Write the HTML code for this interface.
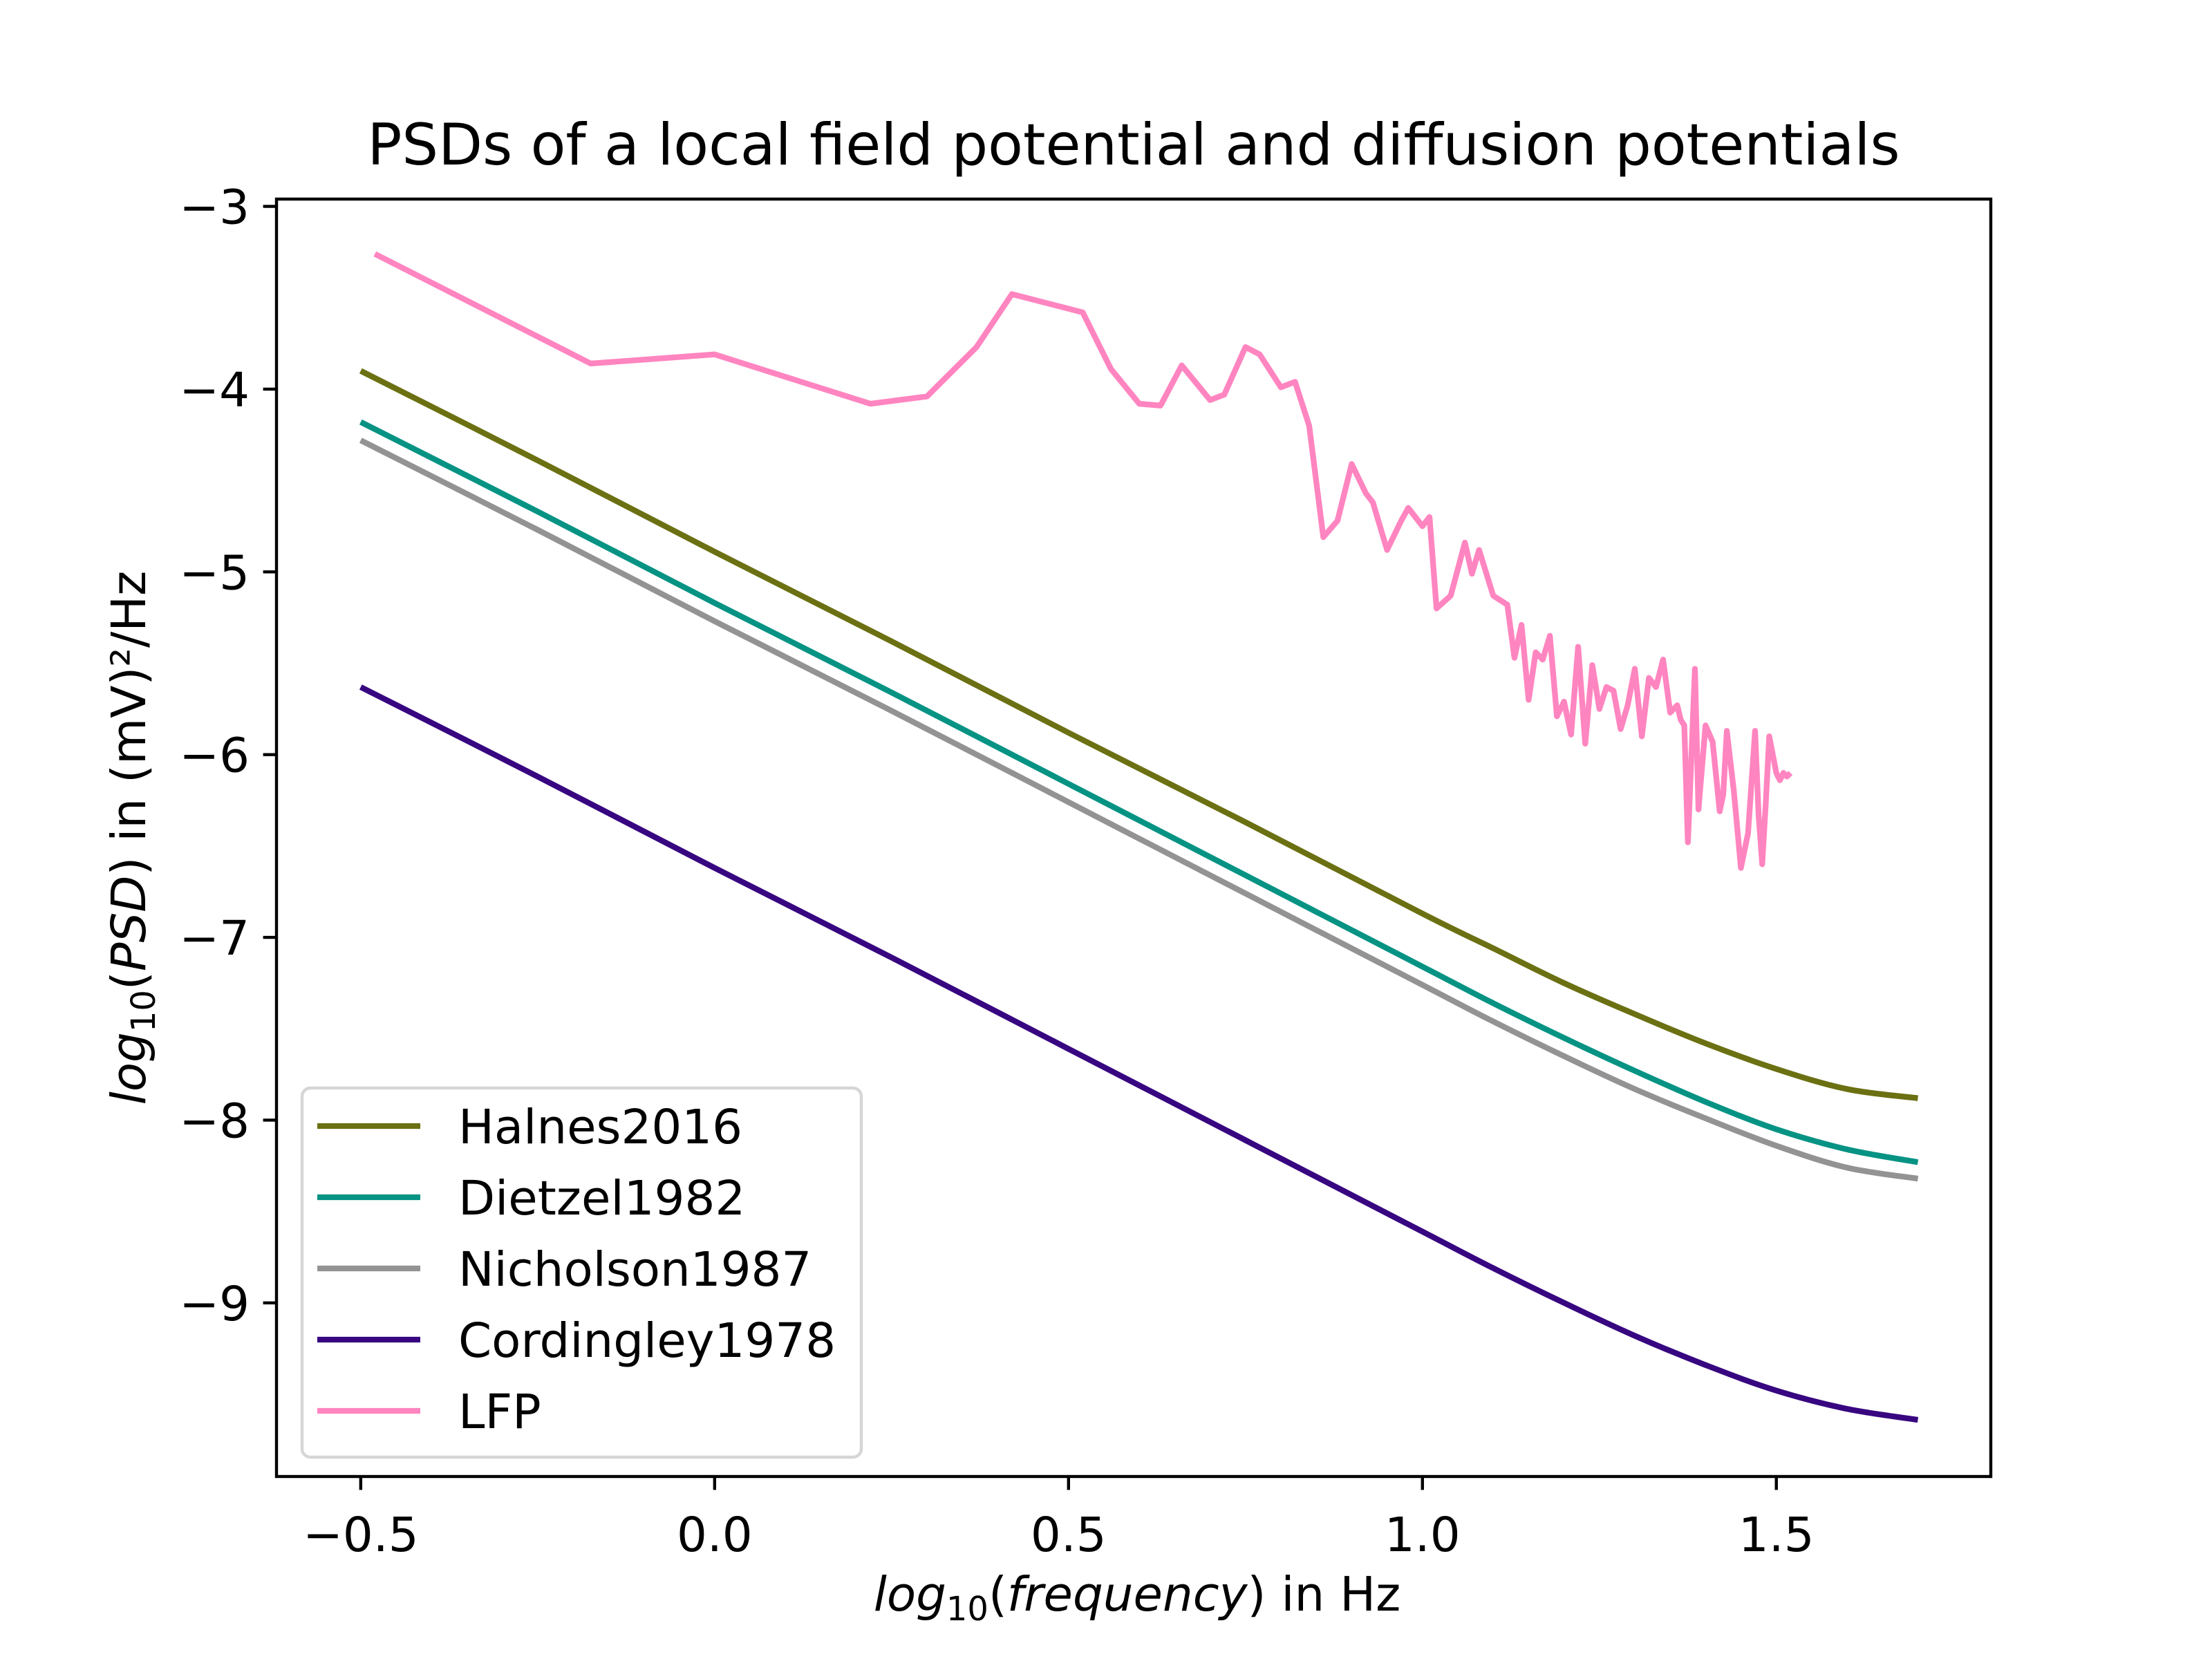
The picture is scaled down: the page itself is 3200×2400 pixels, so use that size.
<!DOCTYPE html>
<html><head><meta charset="utf-8"><style>
html,body{margin:0;padding:0;background:#fff;}
svg{display:block;font-family:"DejaVu Sans","Liberation Sans",sans-serif;}
</style></head><body>
<svg id="chart" width="3200" height="2400" viewBox="0 0 3200 2400" xmlns="http://www.w3.org/2000/svg">
<rect width="3200" height="2400" fill="#fff"/>
<text x="1640" y="238" font-size="83" text-anchor="middle">PSDs of a local field potential and diffusion potentials</text>
<g id="series"></g>
<rect x="400" y="288" width="2480" height="1848" fill="none" stroke="#000" stroke-width="4.4"/>
<g id="ticks"></g>
<text x="1645" y="2330" font-size="69" text-anchor="middle"><tspan font-style="italic">log</tspan><tspan font-size="48" dy="14">10</tspan><tspan dy="-14">(</tspan><tspan font-style="italic">frequency</tspan><tspan>) in Hz</tspan></text>
<text transform="translate(210,1212) rotate(-90)" font-size="69" text-anchor="middle"><tspan font-style="italic">log</tspan><tspan font-size="48" dy="14">10</tspan><tspan dy="-14">(</tspan><tspan font-style="italic">PSD</tspan><tspan>) in (mV)²/Hz</tspan></text>
<g id="legend">
<rect x="437" y="1574" width="809" height="534" rx="12" fill="#fff" fill-opacity="0.8" stroke="#d6d6d6" stroke-width="4.4"/>
</g>
</svg>
<script>
const xGrid = [-0.5,-0.25,0,0.25,0.5,0.75,1.0,1.1,1.2,1.3,1.4,1.5,1.6,1.7];
const halnes = [-3.90,-4.39,-4.89,-5.38,-5.88,-6.37,-6.87,-7.06,-7.25,-7.42,-7.58,-7.72,-7.83,-7.88];
const dietzel = [-4.18,-4.67,-5.17,-5.66,-6.16,-6.66,-7.16,-7.36,-7.55,-7.73,-7.90,-8.05,-8.16,-8.23];
const nicholson = [-4.28,-4.77,-5.27,-5.76,-6.26,-6.76,-7.26,-7.46,-7.65,-7.83,-7.99,-8.14,-8.26,-8.32];
const cordingley = [-5.63,-6.12,-6.62,-7.11,-7.61,-8.11,-8.61,-8.81,-9.00,-9.18,-9.34,-9.48,-9.58,-9.64];
const lfpX = [-0.48,-0.175,0.0,0.22,0.30,0.37,0.42,0.52,0.56,0.60,0.63,0.66,0.70,0.72,0.75,0.77,0.80,0.82,0.84,0.86,0.88,0.90,0.92,0.93,0.95,0.97,0.98,1.00,1.01,1.02,1.04,1.06,1.07,1.08,1.10,1.12,1.13,1.14,1.15,1.16,1.17,1.18,1.19,1.20,1.21,1.22,1.23,1.24,1.25,1.26,1.27,1.28,1.29,1.30,1.31,1.32,1.33,1.34,1.35,1.36,1.365,1.37,1.375,1.385,1.39,1.40,1.41,1.415,1.42,1.425,1.43,1.44,1.45,1.46,1.47,1.475,1.48,1.485,1.49,1.50,1.505,1.51,1.515,1.52];
const lfpY = [-3.26,-3.86,-3.81,-4.08,-4.04,-3.77,-3.48,-3.58,-3.89,-4.08,-4.09,-3.87,-4.06,-4.03,-3.77,-3.81,-3.99,-3.96,-4.20,-4.81,-4.72,-4.41,-4.57,-4.62,-4.88,-4.72,-4.65,-4.75,-4.70,-5.20,-5.13,-4.84,-5.01,-4.88,-5.13,-5.18,-5.47,-5.29,-5.70,-5.44,-5.48,-5.35,-5.79,-5.71,-5.89,-5.41,-5.94,-5.51,-5.75,-5.63,-5.65,-5.86,-5.73,-5.53,-5.90,-5.58,-5.63,-5.48,-5.77,-5.73,-5.81,-5.84,-6.48,-5.53,-6.30,-5.84,-5.93,-6.12,-6.31,-6.22,-5.87,-6.20,-6.62,-6.43,-5.87,-6.33,-6.60,-6.27,-5.90,-6.10,-6.14,-6.10,-6.12,-6.10];
const xTicks = [-0.5,0.0,0.5,1.0,1.5];
const xTickLabels = ["\u22120.5","0.0","0.5","1.0","1.5"];
const yTicks = [-3,-4,-5,-6,-7,-8,-9];
const yTickLabels = ["\u22123","\u22124","\u22125","\u22126","\u22127","\u22128","\u22129"];
const seriesNames = ["Halnes2016","Dietzel1982","Nicholson1987","Cordingley1978","LFP"];

const NS="http://www.w3.org/2000/svg";
const X0=400,X1=2880,Y0=288,Y1=2136;
const xmin=-0.619,xmax=1.803,ymin=-9.95,ymax=-2.96;
function sx(v){return X0+(v-xmin)/(xmax-xmin)*(X1-X0);}
function sy(v){return Y1-(v-ymin)/(ymax-ymin)*(Y1-Y0);}
function mk(tag,attrs,parent){const e=document.createElementNS(NS,tag);for(const k in attrs)e.setAttribute(k,attrs[k]);parent.appendChild(e);return e;}
function smoothPath(P){
  let d="M"+P[0][0].toFixed(1)+","+P[0][1].toFixed(1);
  for(let i=0;i<P.length-1;i++){
    const p0=P[i>0?i-1:i],p1=P[i],p2=P[i+1],p3=P[i+2<P.length?i+2:i+1];
    const c1=[p1[0]+(p2[0]-p0[0])/6,p1[1]+(p2[1]-p0[1])/6];
    const c2=[p2[0]-(p3[0]-p1[0])/6,p2[1]-(p3[1]-p1[1])/6];
    d+=" C"+c1[0].toFixed(1)+","+c1[1].toFixed(1)+" "+c2[0].toFixed(1)+","+c2[1].toFixed(1)+" "+p2[0].toFixed(1)+","+p2[1].toFixed(1);
  }
  return d;
}
const series=document.getElementById('series');
const colors=["#6b7012","#079384","#939393","#370680","#ff85c0"];
const ys=[halnes,dietzel,nicholson,cordingley];
const slugs=["halnes2016-line","dietzel1982-line","nicholson1987-line","cordingley1978-line"];
for(let i=0;i<4;i++){
  const P=xGrid.map((x,j)=>[sx(x),sy(ys[i][j])]);
  const p=mk('path',{d:smoothPath(P),fill:"none",stroke:colors[i],"stroke-width":8.3,"stroke-linejoin":"round"},series);
  
  
}
const lp=mk('polyline',{points:lfpX.map((x,j)=>sx(x).toFixed(1)+","+sy(lfpY[j]).toFixed(1)).join(" "),fill:"none",stroke:colors[4],"stroke-width":8.3,"stroke-linejoin":"round"},series);



const ticks=document.getElementById('ticks');
xTicks.forEach((v,i)=>{
  const x=sx(v);
  const t=mk('line',{x1:x,x2:x,y1:Y1,y2:Y1+19.4,stroke:"#000","stroke-width":4.4},ticks);
  
  
  const l=mk('text',{x:x,y:2244,"font-size":69,"text-anchor":"middle"},ticks);
  l.textContent=xTickLabels[i];
  
  
});
yTicks.forEach((v,i)=>{
  const y=sy(v);
  const t=mk('line',{x1:X0-19.4,x2:X0,y1:y,y2:y,stroke:"#000","stroke-width":4.4},ticks);
  
  
  const l=mk('text',{x:X0-39,y:y+25,"font-size":69,"text-anchor":"end"},ticks);
  l.textContent=yTickLabels[i];
  
  
});
const legend=document.getElementById('legend');
seriesNames.forEach((n,i)=>{
  const y=1629+i*103;
  const g=mk('g',{},legend);
  
  
  const ln=mk('line',{x1:459,x2:608,y1:y,y2:y,stroke:colors[i],"stroke-width":8.3},g);
  
  
  const tx=mk('text',{x:663,y:y+25,"font-size":69},g);
  tx.textContent=n;
  
  
});
</script>
</body></html>
